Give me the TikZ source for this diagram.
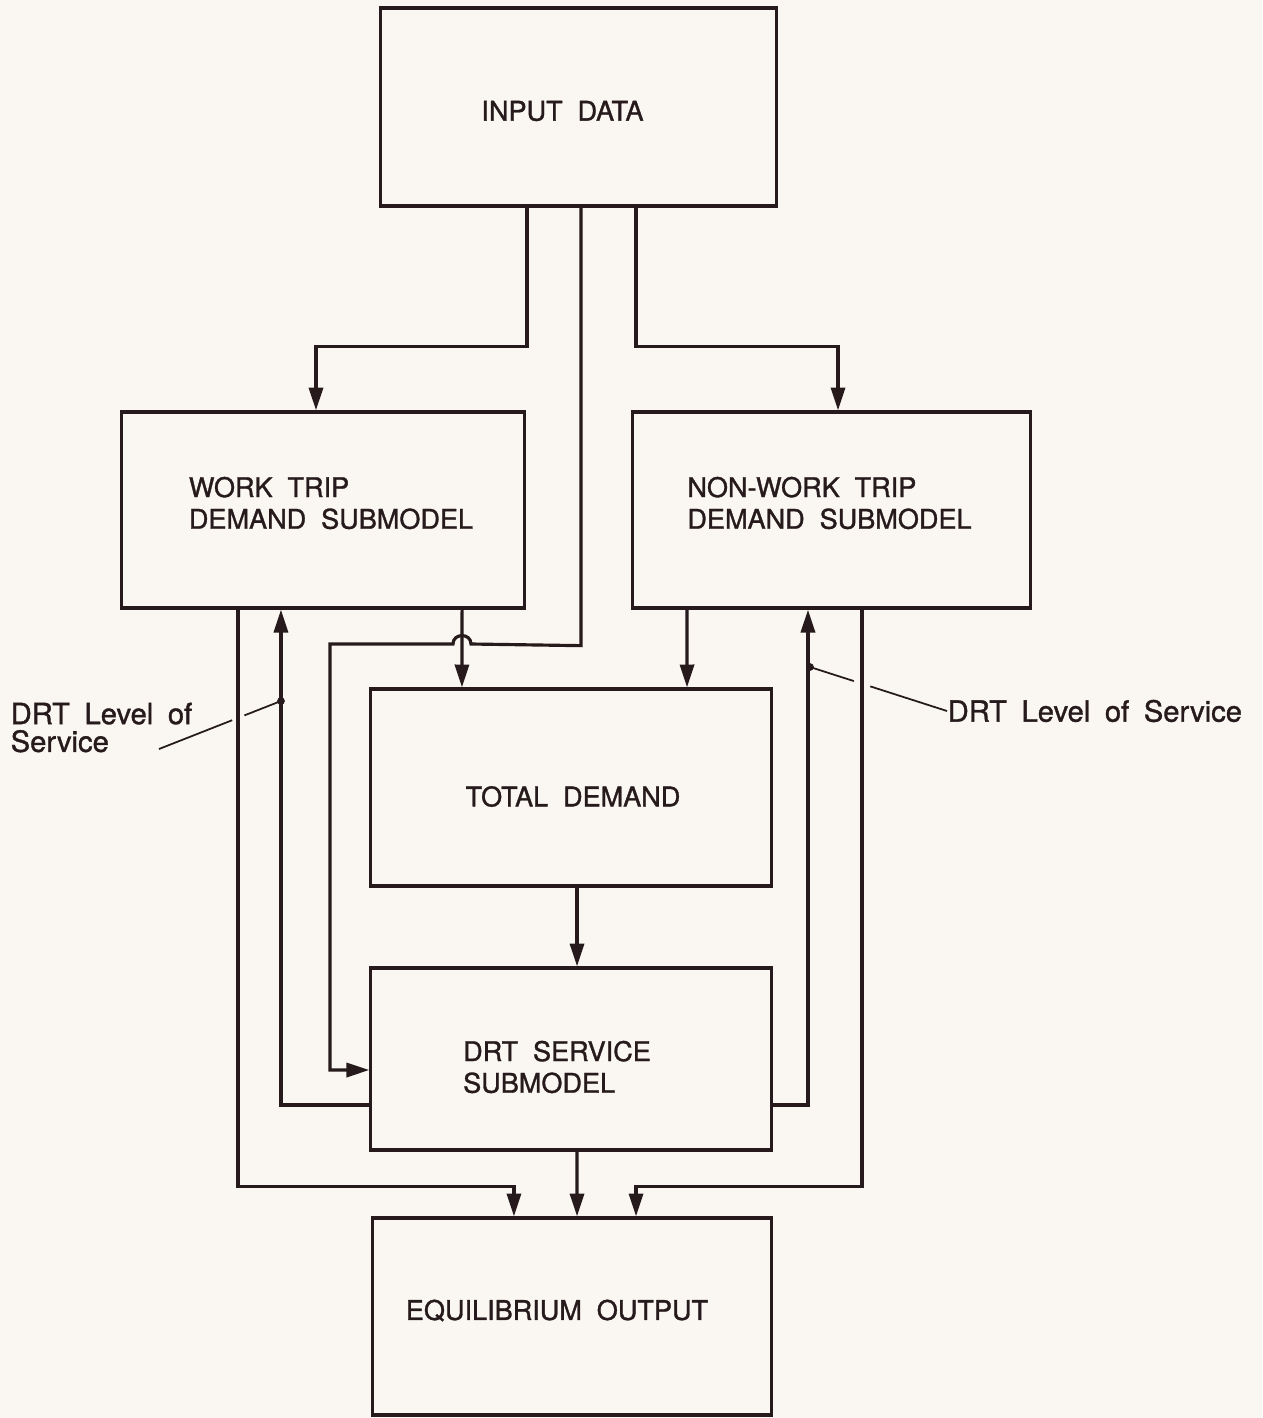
\documentclass[tikz,border=0pt]{standalone}
\usepackage{fontspec}
\setmainfont{TeX Gyre Heros}[FakeBold=1.2]
\usetikzlibrary{arrows.meta,calc}
\definecolor{paper}{RGB}{250,247,242}
\definecolor{ink}{RGB}{38,26,28}
\newcommand\boxfont{\fontsize{7.7}{9}\selectfont\spaceskip=0.55em plus 0.1em}
\newcommand\notefont{\fontsize{8.3}{7.9}\selectfont\spaceskip=0.5em plus 0.1em}
\tikzset{
  block/.style={draw=ink,line width=0.9pt,minimum width=4cm,minimum height=1.97cm,inner sep=0pt},
  tag/.style={font=\boxfont,text=ink,align=left,inner sep=0pt},
  flow/.style={draw=ink,line width=0.9pt,-{Triangle[length=6.5pt,width=4pt]}},
  leader/.style={draw=ink,line width=0.5pt},
  note/.style={font=\notefont,text=ink,align=left,inner sep=0pt}
}
\begin{document}
\begin{tikzpicture}[x=0.01cm,y=-0.01cm]
\path[fill=paper,use as bounding box] (0,0) rectangle (1262,1418);

\node[block,minimum width=3.95cm,minimum height=1.98cm,
  label={[tag,xshift=-0.16cm,yshift=-0.04cm]center:INPUT DATA}] (input) at (578.5,107) {};
\node[block,minimum width=4.02cm,minimum height=1.96cm,
  label={[tag,xshift=0.08cm,yshift=0.07cm]center:WORK TRIP\\DEMAND SUBMODEL}] (work) at (323,510) {};
\node[block,minimum width=3.97cm,minimum height=1.96cm,
  label={[tag,xshift=-0.02cm,yshift=0.07cm]center:NON-WORK TRIP\\DEMAND SUBMODEL}] (nonwork) at (831.5,510) {};
\node[block,label={[tag,xshift=0.02cm,yshift=-0.09cm]center:TOTAL DEMAND}] (total) at (571,787.5) {};
\node[block,minimum height=1.82cm,
  label={[tag,xshift=-0.14cm,yshift=-0.08cm]center:DRT SERVICE\\SUBMODEL}] (service) at (571,1059) {};
\node[block,minimum width=3.98cm,
  label={[tag,xshift=-0.15cm,yshift=0.06cm]center:EQUILIBRIUM OUTPUT}] (output) at (572,1316.5) {};

\draw[flow] ([xshift=-0.515cm]input.south) -- ++(0,139) -| ([xshift=-0.07cm]work.north);
\draw[flow] ([xshift=0.575cm]input.south) -- ++(0,139) -| ([xshift=0.065cm]nonwork.north);
\draw[flow] ([xshift=0.025cm]input.south) -- ++(0,438) -- (471,644) to[out=90,in=90,looseness=1.6] (453,644) -- (330,644) |- ([yshift=-0.11cm]service.west);
\draw[flow] ([xshift=1.39cm]work.south) -- ([xshift=-1.09cm]total.north);
\draw[flow] ([xshift=-1.445cm]nonwork.south) -- ([xshift=1.16cm]total.north);
\draw[flow] ([xshift=0.06cm]total.south) -- ([xshift=0.06cm]service.north);
\draw[flow] ([yshift=-0.46cm]service.west) -| ([xshift=-0.42cm]work.south);
\draw[flow] ([yshift=-0.46cm]service.east) -| ([xshift=-0.235cm]nonwork.south);
\draw[flow] ([xshift=-0.85cm]work.south) -- ++(0,577) -| ([xshift=-0.58cm]output.north);
\draw[flow] ([xshift=0.06cm]service.south) -- ([xshift=0.05cm]output.north);
\draw[flow] ([xshift=0.305cm]nonwork.south) -- ++(0,577) -| ([xshift=0.64cm]output.north);

\node[note,anchor=north west] (lvlL) at (10,702) {DRT Level of\\Service};
\coordinate (tailL) at (159,749);
\coordinate (dotL) at (281,701);
\draw[leader] (tailL) -- ($(tailL)!0.6!(dotL)$) ($(tailL)!0.7!(dotL)$) -- (dotL);
\fill[ink] (dotL) circle (1.1pt);

\node[note,anchor=west] (lvlR) at (947,711) {DRT Level of Service};
\coordinate (dotR) at (810,667);
\draw[leader] (lvlR.west) -- ($(lvlR.west)!0.56!(dotR)$) ($(lvlR.west)!0.68!(dotR)$) -- (dotR);
\fill[ink] (dotR) circle (1.1pt);
\end{tikzpicture}
\end{document}
